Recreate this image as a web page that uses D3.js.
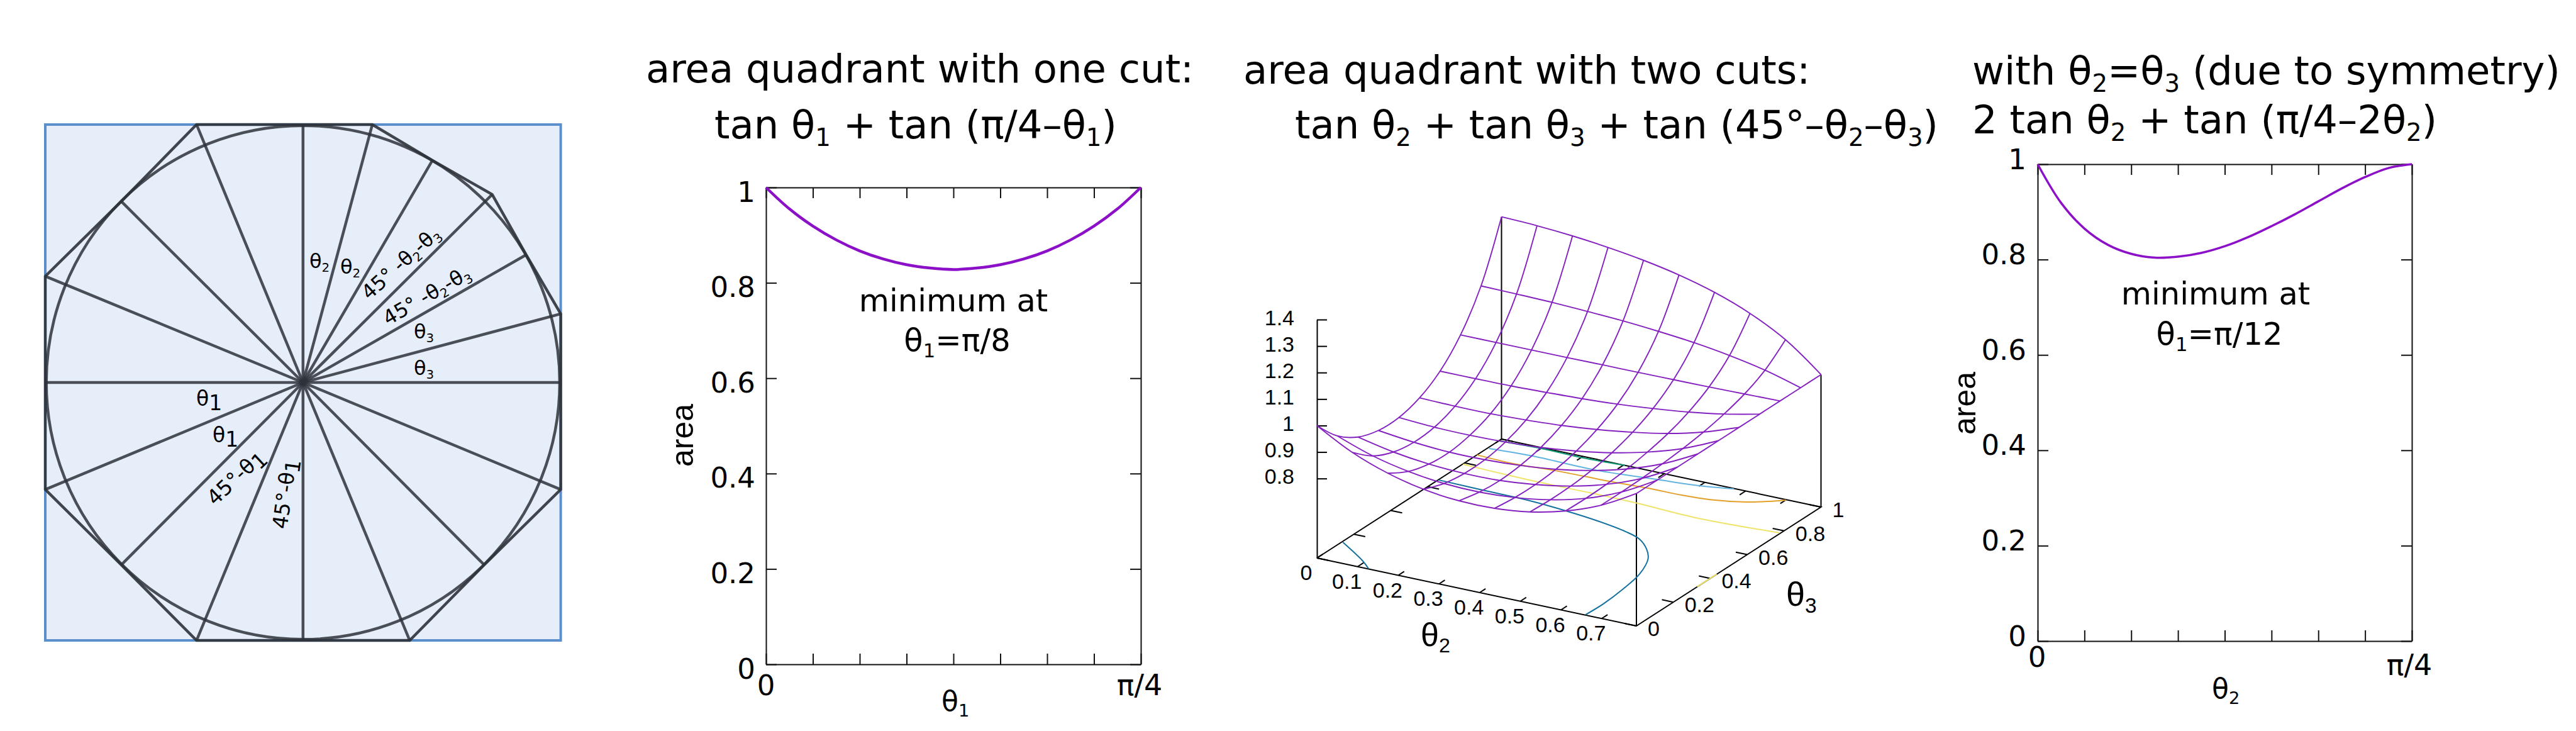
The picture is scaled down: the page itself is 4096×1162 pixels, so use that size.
<!DOCTYPE html>
<html>
<head>
<meta charset="utf-8">
<script src="https://cdn.jsdelivr.net/npm/d3@7"></script>
<style>
body { margin: 0; background: #fff; }
text { font-family: "DejaVu Sans"; fill: #000; }
</style>
</head>
<body>
<div id="app"></div>
<script>
// octagon-ish cut outline, unit square coordinates
const outline = [
    [-0.413, 1], [0.269, 1], [0.502, 0.861], [0.734, 0.729], [0.866, 0.495], [1, 0.266],
    [1, -0.415], [0.703, -0.707], [0.414, -1], [-0.413, -1], [-0.705, -0.707],
    [-1, -0.415], [-1, 0.412], [-0.705, 0.702]
];
const axisEnds = [[0, 1], [1, 0], [0, -1], [-1, 0]];

// 2d panels
const areaTicks = [0, 0.2, 0.4, 0.6, 0.8, 1];
const angleSteps = d3.range(0, 17).map(k => k * Math.PI / 64);
const oneCutArea = [1, 0.955, 0.919, 0.890, 0.867, 0.850, 0.838, 0.831, 0.828, 0.831, 0.838, 0.850, 0.867, 0.890, 0.919, 0.955, 1];
const symmetricArea = [1, 0.919, 0.865, 0.831, 0.812, 0.804, 0.806, 0.814, 0.828, 0.847, 0.870, 0.895, 0.922, 0.949, 0.973, 0.992, 1];

// surface panel
const theta2Grid = [0, 0.0873, 0.1745, 0.2618, 0.3491, 0.4363, 0.5236, 0.6109, 0.6981, 0.7854];
const theta3Grid = [0, 0.111, 0.222, 0.333, 0.444, 0.556, 0.667, 0.778, 0.889, 1];
const surfaceArea = [
    [1.000, 0.911, 0.857, 0.832, 0.831, 0.855, 0.906, 0.993, 1.128, 1.339],
    [0.927, 0.864, 0.829, 0.816, 0.823, 0.852, 0.906, 0.993, 1.126, 1.334],
    [0.877, 0.834, 0.812, 0.807, 0.821, 0.852, 0.907, 0.993, 1.123, 1.324],
    [0.845, 0.817, 0.805, 0.807, 0.824, 0.857, 0.911, 0.993, 1.117, 1.309],
    [0.830, 0.813, 0.807, 0.814, 0.832, 0.865, 0.916, 0.994, 1.110, 1.289],
    [0.830, 0.821, 0.820, 0.828, 0.847, 0.878, 0.924, 0.994, 1.099, 1.262],
    [0.845, 0.841, 0.843, 0.852, 0.869, 0.896, 0.936, 0.995, 1.085, 1.225],
    [0.877, 0.875, 0.878, 0.886, 0.900, 0.920, 0.951, 0.996, 1.065, 1.174],
    [0.927, 0.927, 0.929, 0.934, 0.942, 0.954, 0.972, 0.998, 1.038, 1.103],
    [1, 1, 1, 1, 1, 1, 1, 1, 1, 1]
];
const theta2Ticks = [0, 0.1, 0.2, 0.3, 0.4, 0.5, 0.6, 0.7];
const theta3Ticks = [0, 0.2, 0.4, 0.6, 0.8, 1];
const heightTicks = [0.8, 0.9, 1, 1.1, 1.2, 1.3, 1.4];

// contours on the floor, [theta2, theta3]
const contourGreen = [[0.002, 0.985], [0.101, 0.994], [0.206, 0.991], [0.304, 1]];
const contourSky = [[0.004, 0.924], [0.107, 0.935], [0.261, 0.931], [0.402, 0.954], [0.498, 0.971], [0.572, 0.998]];
const contourOrange = [[0, 0.867], [0.092, 0.861], [0.190, 0.873], [0.319, 0.878], [0.412, 0.887], [0.494, 0.888], [0.559, 0.898], [0.633, 0.932], [0.673, 0.966], [0.701, 0.997]];
const contourYellow = [[0.001, 0.789], [0.114, 0.781], [0.219, 0.778], [0.330, 0.780], [0.434, 0.777], [0.584, 0.764], [0.783, 0.781]];
const contourYellowEdge = [[0.785, 0.33], [0.785, 0.436]];
const contourBlue = [[0.002, 0.657], [0.118, 0.652], [0.223, 0.649], [0.330, 0.632], [0.412, 0.612], [0.495, 0.582], [0.542, 0.553], [0.584, 0.499], [0.614, 0.441], [0.642, 0.334], [0.655, 0.212], [0.661, 0.094], [0.659, 0.003]];
const contourBlueCorner = [[0.003, 0.134], [0.094, 0.042], [0.126, 0.002]];

const purple = "#8b10c8";

const svg = d3.select("#app").append("svg")
    .attr("width", 4096)
    .attr("height", 1162);

// text with _n subscripts
function label(parent, str, x, y, size, opts) {
    opts = opts || {};
    const subSize = size * (opts.sub || 0.62);
    const subDrop = size * (opts.drop === undefined ? 0.2 : opts.drop);
    const t = parent.append("text")
        .attr("font-size", size)
        .attr("text-anchor", opts.anchor || "start");
    if (opts.family) t.style("font-family", opts.family);
    if (opts.rotate) t.attr("transform", `translate(${x},${y}) rotate(${opts.rotate})`);
    else t.attr("x", x).attr("y", y);
    let down = false;
    str.split(/(_\d)/).filter(s => s !== "").forEach(part => {
        const isSub = part[0] === "_";
        const span = t.append("tspan").attr("xml:space", "preserve").text(isSub ? part[1] : part);
        if (isSub) {
            span.attr("font-size", subSize).attr("dy", subDrop);
            down = true;
        } else if (down) {
            span.attr("dy", -subDrop);
            down = false;
        }
    });
    return t;
}

// ---- left: circle and cuts ----
const sx = d3.scaleLinear().domain([-1, 1]).range([72, 891.6]);
const sy = d3.scaleLinear().domain([-1, 1]).range([1018, 198]);
const left = svg.append("g");

left.append("rect")
    .attr("x", sx(-1)).attr("y", sy(1))
    .attr("width", sx(1) - sx(-1)).attr("height", sy(-1) - sy(1))
    .attr("fill", "#e6eefa")
    .attr("stroke", "#5b8fcb")
    .attr("stroke-width", 4);

const inkColor = "#2e323a";
left.append("path")
    .attr("d", d3.line().x(d => sx(d[0])).y(d => sy(d[1])).curve(d3.curveLinearClosed)(outline))
    .attr("fill", "none").attr("stroke", inkColor).attr("stroke-opacity", 0.9).attr("stroke-width", 4.5);

left.append("ellipse")
    .attr("cx", sx(0)).attr("cy", sy(0))
    .attr("rx", sx(0.996) - sx(0)).attr("ry", sy(0) - sy(0.996))
    .attr("fill", "none").attr("stroke", inkColor).attr("stroke-opacity", 0.85).attr("stroke-width", 4.5);

left.selectAll("line.ray")
    .data(outline.concat(axisEnds)).enter()
    .append("line")
    .attr("class", "ray")
    .attr("x1", sx(0)).attr("y1", sy(0))
    .attr("x2", d => sx(d[0])).attr("y2", d => sy(d[1]))
    .attr("stroke", inkColor).attr("stroke-opacity", 0.85).attr("stroke-width", 4.5);

label(left, "θ_2", 492, 426, 32);
label(left, "θ_2", 541, 435, 32);
label(left, "θ_3", 658, 538, 32);
label(left, "θ_3", 658, 596, 32);
label(left, "45° -θ_2-θ_3", 587, 478, 32, {rotate: -42});
label(left, "45° -θ_2-θ_3", 617, 518, 32, {rotate: -30});
label(left, "θ_1", 312, 645, 33, {sub: 1, drop: 0.2});
label(left, "θ_1", 338, 703, 33, {sub: 1, drop: 0.2});
label(left, "45°-θ_1", 342, 805, 33, {sub: 1, drop: 0.2, rotate: -43});
label(left, "45°-θ_1", 456, 842, 33, {sub: 1, drop: 0.22, rotate: -82});

// ---- 2d line panels ----
function linePanel(box, values, tickDy, stroke) {
    const x = d3.scaleLinear().domain([0, Math.PI / 4]).range([box.x0, box.x1]);
    const y = d3.scaleLinear().domain([0, 1]).range([box.y1, box.y0]);
    const g = svg.append("g");
    const xTicks = d3.range(0, 9).map(k => k * Math.PI / 32);

    const style = sel => {
        sel.selectAll("path,line").attr("stroke", "#111").attr("stroke-width", 2);
        sel.attr("font-family", null).attr("font-size", null);
    };

    g.append("g").attr("transform", `translate(0,${box.y1})`)
        .call(d3.axisBottom(x).tickValues(xTicks).tickSize(-box.tick).tickSizeOuter(0).tickFormat(""))
        .call(style);
    g.append("g").attr("transform", `translate(0,${box.y0})`)
        .call(d3.axisTop(x).tickValues(xTicks).tickSize(-box.tick).tickSizeOuter(0).tickFormat(""))
        .call(style);
    g.append("g").attr("transform", `translate(${box.x1},0)`)
        .call(d3.axisRight(y).tickValues(areaTicks).tickSize(-box.tick).tickSizeOuter(0).tickFormat(""))
        .call(style);
    g.append("g").attr("transform", `translate(${box.x0},0)`)
        .call(d3.axisLeft(y).tickValues(areaTicks).tickSize(-box.tick).tickSizeOuter(0).tickPadding(box.pad).tickFormat(d => String(d)))
        .call(style)
        .call(a => a.selectAll("text").attr("font-size", 45).attr("dy", `${tickDy}px`).style("font-family", "DejaVu Sans"));

    g.append("path")
        .attr("d", d3.line().x((d, i) => x(angleSteps[i])).y(d => y(d)).curve(d3.curveCatmullRom)(values))
        .attr("fill", "none").attr("stroke", purple).attr("stroke-width", stroke);
    return g;
}

const oneCut = linePanel({x0: 1218, x1: 1814, y0: 298, y1: 1056, tick: 17, pad: 17}, oneCutArea, 22, 4.5);
label(oneCut, "0", 1218, 1105, 45, {anchor: "middle"});
label(oneCut, "π/4", 1812, 1105, 46, {anchor: "middle"});
label(oneCut, "θ_1", 1497, 1130, 44);
label(oneCut, "area", 1102, 692, 50, {anchor: "middle", rotate: -90, family: "Liberation Sans"});
label(oneCut, "minimum at", 1516, 495, 49.5, {anchor: "middle"});
label(oneCut, "θ_1=π/8", 1522, 558, 49.5, {anchor: "middle"});
label(svg, "area quadrant with one cut:", 1027, 131, 62.4);
label(svg, "tan θ_1 + tan (π/4–θ_1)", 1136, 220, 62.4);

const symmetric = linePanel({x0: 3240, x1: 3835, y0: 261, y1: 1019, tick: 17, pad: 18}, symmetricArea, 7, 3.5);
label(symmetric, "0", 3239, 1060, 45, {anchor: "middle"});
label(symmetric, "π/4", 3831, 1073, 46, {anchor: "middle"});
label(symmetric, "θ_2", 3517, 1110, 44);
label(symmetric, "area", 3141, 641, 50, {anchor: "middle", rotate: -90, family: "Liberation Sans"});
label(symmetric, "minimum at", 3523, 484, 49.5, {anchor: "middle"});
label(symmetric, "θ_1=π/12", 3529, 548, 49.5, {anchor: "middle"});
label(svg, "with θ_2=θ_3 (due to symmetry)", 3136, 134, 62.4);
label(svg, "2 tan θ_2 + tan (π/4–2θ_2)", 3136, 212, 62.4);

// ---- surface panel, gnuplot style oblique projection ----
const t2X = d3.scaleLinear().domain([0, Math.PI / 4]).range([0, 508]);
const t2Y = d3.scaleLinear().domain([0, Math.PI / 4]).range([0, 108]);
const t3X = d3.scaleLinear().domain([0, 1]).range([0, 293.5]);
const t3Y = d3.scaleLinear().domain([0, 1]).range([0, -189]);
const zY = d3.scaleLinear().domain([0.5, 1.4]).range([887, 508]);
const originX = 2094;

const project = (t2, t3, z) => [
    originX + t2X(t2) + t3X(t3),
    zY(z) + t2Y(t2) + t3Y(t3)
];
const t2Max = Math.PI / 4;
const surf = svg.append("g");
const polyline = d3.line();
const smooth = d3.line().curve(d3.curveCatmullRom);

function frame(points, width) {
    surf.append("path")
        .attr("d", polyline(points.map(p => project(p[0], p[1], p[2]))))
        .attr("fill", "none").attr("stroke", "#000").attr("stroke-width", width || 2);
}

// floor and verticals
frame([[0, 0, 0.5], [t2Max, 0, 0.5], [t2Max, 1, 0.5], [0, 1, 0.5], [0, 0, 0.5]]);
frame([[0, 1, 0.5], [0, 1, surfaceArea[0][9]]]);
frame([[t2Max, 0, 0.5], [t2Max, 0, 1]]);
frame([[t2Max, 1, 0.5], [t2Max, 1, 1]]);

surf.append("g").attr("transform", `translate(${originX},0)`)
    .call(d3.axisRight(zY).tickValues(heightTicks).tickSize(16).tickSizeOuter(0).tickFormat(d => String(d)))
    .call(a => a.selectAll("path,line").attr("stroke", "#000").attr("stroke-width", 2))
    .call(a => a.selectAll("text")
        .attr("x", -36).attr("dy", "0.24em").attr("text-anchor", "end")
        .attr("font-size", 34).style("font-family", "Liberation Sans"));

// floor ticks on both opposite edges
theta2Ticks.forEach(v => {
    frame([[v, 0, 0.5], [v, 0.032, 0.5]]);
    frame([[v, 1, 0.5], [v, 0.968, 0.5]]);
    const p = project(v, 0, 0.5);
    label(surf, String(v), p[0] - 17, p[1] + 35, 34, {anchor: "middle", family: "Liberation Sans"});
});
theta3Ticks.forEach(v => {
    frame([[0, v, 0.5], [0.028, v, 0.5]]);
    frame([[t2Max, v, 0.5], [t2Max - 0.028, v, 0.5]]);
    const p = project(t2Max, v, 0.5);
    label(surf, String(v), p[0] + 18, p[1] + 16, 34, {family: "Liberation Sans"});
});

label(surf, "θ_2", 2259, 1027, 52, {family: "Liberation Sans"});
label(surf, "θ_3", 2840, 963, 54, {family: "Liberation Sans"});
label(svg, "area quadrant with two cuts:", 1977, 133, 62.4);
label(svg, "tan θ_2 + tan θ_3 + tan (45°–θ_2–θ_3)", 2059, 220, 62.4);

// contours
[
    [contourGreen, "#0f9a78"],
    [contourSky, "#62b3e0"],
    [contourOrange, "#e2a02a"],
    [contourYellow, "#efe46a"],
    [contourYellowEdge, "#efe46a"],
    [contourBlue, "#14709f"],
    [contourBlueCorner, "#14709f"]
].forEach(c => {
    surf.append("path")
        .attr("d", smooth(c[0].map(p => project(p[0], p[1], 0.5))))
        .attr("fill", "none").attr("stroke", c[1]).attr("stroke-width", 2);
});

// mesh, isolines in both directions
const meshLines = [];
theta2Grid.forEach((t2, i) => meshLines.push(theta3Grid.map((t3, j) => project(t2, t3, surfaceArea[i][j]))));
theta3Grid.forEach((t3, j) => meshLines.push(theta2Grid.map((t2, i) => project(t2, t3, surfaceArea[i][j]))));

surf.selectAll("path.mesh")
    .data(meshLines).enter()
    .append("path")
    .attr("class", "mesh")
    .attr("d", d => smooth(d))
    .attr("fill", "none")
    .attr("stroke", "#8420bf")
    .attr("stroke-width", 1.9);
</script>
</body>
</html>
